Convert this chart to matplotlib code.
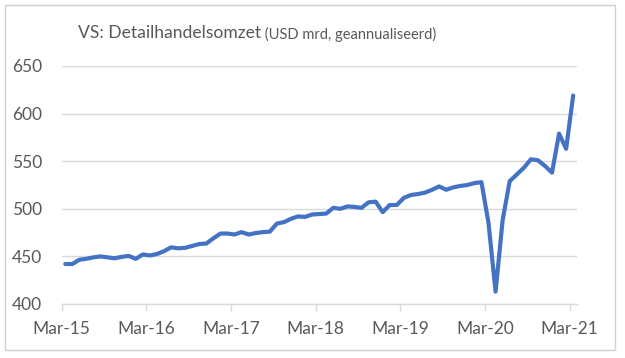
import matplotlib
matplotlib.use("Agg")
import matplotlib.pyplot as plt
from matplotlib.patches import Rectangle

# Monthly values, Mar-15 .. Mar-21 (USD bn)
values = [
    442, 442, 446.5, 447.5, 449, 450, 449, 448, 449.5, 450.5, 447.5, 452,   # Mar-15..Feb-16
    451, 452.5, 455.5, 459.5, 458.5, 459, 461, 463, 463.5, 469, 474, 474,   # Mar-16..Feb-17
    473, 475.5, 473, 474.5, 475.5, 476, 484.5, 486, 489.5, 492, 491.5, 494, # Mar-17..Feb-18
    494.5, 495, 501, 500, 502.5, 502, 501, 506.8, 507.5, 496.5, 504, 504,   # Mar-18..Feb-19
    511.5, 514.5, 515.5, 517, 520, 523.5, 520, 522.5, 524, 525, 527, 528,   # Mar-19..Feb-20
    485, 413, 488, 529, 536, 543, 552, 551, 545, 538, 579, 563,             # Mar-20..Feb-21
    619,                                                                    # Mar-21
]
tick_labels = ["Mar-15", "Mar-16", "Mar-17", "Mar-18", "Mar-19", "Mar-20", "Mar-21"]
y_ticks = [400, 450, 500, 550, 600, 650]
title_main = "VS: Detailhandelsomzet"
title_sub = " (USD mrd, geannualiseerd)"

FONT = ["Lato", "DejaVu Sans"]
TXT = "#595959"
GRID = "#D9D9D9"
LINE = "#4472C4"

fig = plt.figure(figsize=(6.25, 3.58), dpi=100)
fig.patch.set_facecolor("white")

# chart-area border
border = Rectangle((5 / 625, 8 / 358), 610 / 625, 345 / 358,
                   transform=fig.transFigure, facecolor="none",
                   edgecolor="#D0D0D0", linewidth=1.0, zorder=-1)
fig.patches.append(border)

ax = fig.add_axes([61.7 / 625, 1 - 304 / 358, 515 / 625, (304 - 66) / 358])
ax.set_facecolor("none")

x = list(range(len(values)))
ax.plot(x, values, color=LINE, linewidth=3.0, solid_joinstyle="round",
        solid_capstyle="round", zorder=3)

ax.set_xlim(-0.5, len(values) - 0.5)
ax.set_ylim(400, 650)
ax.set_yticks(y_ticks)
ax.set_yticklabels([str(v) for v in y_ticks], fontfamily=FONT, fontsize=12.5, color=TXT)
ax.set_xticks([-0.5 + 12 * k for k in range(len(tick_labels))])
ax.set_xticklabels(tick_labels, fontfamily=FONT, fontsize=12.5, color=TXT)

ax.grid(axis="y", color=GRID, linewidth=1.0, zorder=0)
for s in ["top", "right", "left"]:
    ax.spines[s].set_visible(False)
ax.spines["bottom"].set_color(GRID)
ax.spines["bottom"].set_linewidth(1.0)
ax.tick_params(axis="y", length=0, pad=14)
ax.tick_params(axis="x", length=5, width=1.0, color=GRID, pad=7)

# title: two parts, centred together
t1 = fig.text(0, 1 - 33 / 358, title_main, fontfamily=FONT, fontsize=14, color=TXT,
              va="center", ha="left")
t2 = fig.text(0, 1 - 34.5 / 358, title_sub, fontfamily=FONT, fontsize=11, color=TXT,
              va="center", ha="left")
fig.canvas.draw()
r = fig.canvas.get_renderer()
# fit widths to the reference layout
w1 = t1.get_window_extent(r).width
t1.set_fontsize(14 * 184 / w1)
w2 = t2.get_window_extent(r).width
t2.set_fontsize(11 * 175 / w2)
fig.canvas.draw()
w1 = t1.get_window_extent(r).width
w2 = t2.get_window_extent(r).width
start = 257.5 - (w1 + w2) / 2
t1.set_x(start / 625)
t2.set_x((start + w1) / 625)

fig.savefig("out.png", dpi=100, facecolor="white")
